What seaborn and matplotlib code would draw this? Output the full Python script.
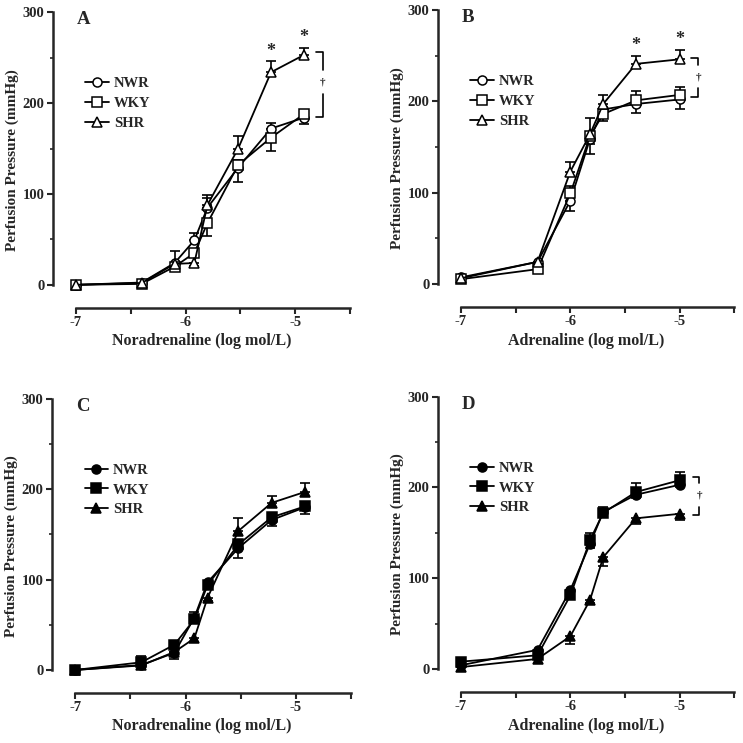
import numpy as np
import pandas as pd
import seaborn as sns
import matplotlib.pyplot as plt
from matplotlib.ticker import NullFormatter

# x values (log mol/L)
x_na = [-7, -6.4, -6.1, -5.92, -5.8, -5.52, -5.22, -4.92]
x_ad = [-7, -6.3, -6.0, -5.82, -5.7, -5.4, -5.0]

groups = ['NWR', 'WKY', 'SHR']

# panel A - noradrenaline, open symbols
a_nwr = [0, 2.5, 24, 49, 85, 129, 172, 184]
a_wky = [0, 1, 20, 35, 68, 132, 162, 188]
a_shr = [0, 2, 23, 24, 88, 150, 234, 253]
a_nwr_err = [0, 0, 13, 8, 14, -16, 6, -7]
a_wky_err = [0, 0, -3, -4, -14, 5, -15, 3]
a_shr_err = [0, 0, 0, -3, 8, 14, 12, 8]

# panel B - adrenaline, open symbols
b_nwr = [7, 24, 91, 159, 191, 197, 202]
b_wky = [5, 16, 99, 162, 186, 201, 207]
b_shr = [6, 24, 123, 164, 197, 241, 246]
b_nwr_err = [0, 0, -11, -6, 0, -10, -10]
b_wky_err = [0, -2, 8, -20, -8, 10, 9]
b_shr_err = [0, 0, 10, 18, 10, 9, 10]

# panel C - noradrenaline, filled symbols
c_nwr = [0, 5.5, 19, 58, 97, 135, 166, 180]
c_wky = [0, 8.5, 28, 56, 94, 139, 169, 181]
c_shr = [0, 5, 20, 35, 80, 154, 185, 197]
c_nwr_err = [0, 0, -7, -5, 0, -11, -7, -7]
c_wky_err = [0, 6.5, 4, 8, 5, 5, 5, 5]
c_shr_err = [0, 0, 0, -4, -4, 14, 8, 10]

# panel D - adrenaline, filled symbols
d_nwr = [4, 21, 87, 138, 173, 192, 203]
d_wky = [8, 15, 81, 142, 172, 195, 208]
d_shr = [2, 11, 36, 76, 123, 166, 171]
d_nwr_err = [0, 0, 0, -5, -4, -4, -3]
d_wky_err = [0, 0, 0, 8, 6, 10, 9]
d_shr_err = [0, 0, -9, -3, -10, -6, -7]

# significance marks: star x positions, bracket (top, bottom)
a_stars = [(-5.22, 234 + 12), (-4.92, 253 + 8)]
b_stars = [(-5.4, 241 + 9), (-5.0, 246 + 10)]
a_bracket = (-4.81, -4.75, 256, 185)
b_bracket = (-4.90, -4.83, 247, 205)
d_bracket = (-4.88, -4.82, 212, 170)

sns.set_style('ticks')
plt.rcParams['font.family'] = ['Liberation Serif', 'DejaVu Serif']
plt.rcParams['font.weight'] = 'bold'
plt.rcParams['axes.unicode_minus'] = False

fig = plt.figure(figsize=(7.43, 7.43), dpi=100)

markers = {'NWR': 'o', 'WKY': 's', 'SHR': '^'}
palette = {g: 'black' for g in groups}


def panel(rect, xs, series, errs, letter, xlabel, filled):
    ax = fig.add_axes(rect)
    df = pd.DataFrame({
        'x': np.tile(xs, 3),
        'y': np.concatenate(series),
        'group': np.repeat(groups, len(xs)),
    })
    for g, ys, e in zip(groups, series, errs):
        e = np.array(e, dtype=float)
        ax.errorbar(xs, ys, yerr=[np.clip(-e, 0, None), np.clip(e, 0, None)],
                    fmt='none', ecolor='black', elinewidth=1.2, capsize=3.8,
                    capthick=1.2, zorder=2)
    sns.lineplot(data=df, x='x', y='y', hue='group', style='group',
                 hue_order=groups, style_order=groups, palette=palette,
                 markers=markers, dashes=False, markersize=6.5,
                 markeredgecolor='black', markeredgewidth=1.1,
                 markerfacecolor='black' if filled else 'white',
                 linewidth=1.3, legend=False, ax=ax, zorder=3, clip_on=False)

    ax.set_xlim(-7.21, -4.5)
    ax.set_ylim(-25.5, 300)
    sns.despine(ax=ax)
    ax.spines['left'].set_bounds(0, 300)
    ax.spines['bottom'].set_bounds(-7, -4.5)
    for s in ['left', 'bottom']:
        ax.spines[s].set_linewidth(1.8)
    ax.set_yticks([0, 100, 200, 300])
    ax.set_yticks([50, 150, 250], minor=True)
    ax.set_xticks([-7, -6, -5])
    ax.set_xticklabels(['-7', '-6', '-5'])
    ax.set_xticks([-6.5, -5.5, -4.5], minor=True)
    ax.xaxis.set_minor_formatter(NullFormatter())
    ax.tick_params(axis='both', which='major', length=4.5, width=1.5,
                   labelsize=10.5, pad=1.5)
    ax.tick_params(axis='y', which='minor', length=2.5, width=1.2)
    ax.tick_params(axis='x', which='minor', length=4.5, width=1.5)
    for lab in ax.get_xticklabels() + ax.get_yticklabels():
        lab.set_fontweight('bold')
    ax.set_xlabel(xlabel, fontsize=11.5, fontweight='bold', labelpad=3)
    ax.set_ylabel('Perfusion Pressure (mmHg)', fontsize=11,
                  fontweight='bold', labelpad=3)
    ax.text(-6.99, 292, letter, fontsize=13.5, fontweight='bold',
            ha='left', va='center')

    ax.legend(handles=ax.lines[-3:], labels=groups, loc='upper left',
              bbox_to_anchor=(0.065, 0.825), frameon=False,
              handlelength=1.6, handletextpad=0.35, labelspacing=0.45,
              prop={'family': 'Liberation Serif', 'weight': 'bold',
                    'size': 10.5})
    return ax


def bracket(ax, b, dagger_y):
    x0, x1, top, bot = b
    gap = 13
    ax.plot([x0, x1, x1], [top, top, dagger_y + gap], color='black', lw=1.2)
    ax.plot([x0, x1, x1], [bot, bot, dagger_y - gap], color='black', lw=1.2)
    ax.text(x1, dagger_y, '\u2020', fontsize=8, ha='center', va='center')


axA = panel([0.0713, 0.5855, 0.3997, 0.398], x_na, [a_nwr, a_wky, a_shr],
            [a_nwr_err, a_wky_err, a_shr_err], 'A',
            'Noradrenaline (log mol/L)', False)
axB = panel([0.5895, 0.5868, 0.399, 0.3997], x_ad, [b_nwr, b_wky, b_shr],
            [b_nwr_err, b_wky_err, b_shr_err], 'B',
            'Adrenaline (log mol/L)', False)
axC = panel([0.0700, 0.0673, 0.4024, 0.3957], x_na, [c_nwr, c_wky, c_shr],
            [c_nwr_err, c_wky_err, c_shr_err], 'C',
            'Noradrenaline (log mol/L)', True)
axD = panel([0.5895, 0.0686, 0.399, 0.3974], x_ad, [d_nwr, d_wky, d_shr],
            [d_nwr_err, d_wky_err, d_shr_err], 'D',
            'Adrenaline (log mol/L)', True)

for ax, stars in [(axA, a_stars), (axB, b_stars)]:
    for sx, sy in stars:
        ax.text(sx, sy + 2, '*', fontsize=13, ha='center', va='bottom')

bracket(axA, a_bracket, 223)
bracket(axB, b_bracket, 227)
bracket(axD, d_bracket, 192)

fig.savefig('out.png', dpi=100)
